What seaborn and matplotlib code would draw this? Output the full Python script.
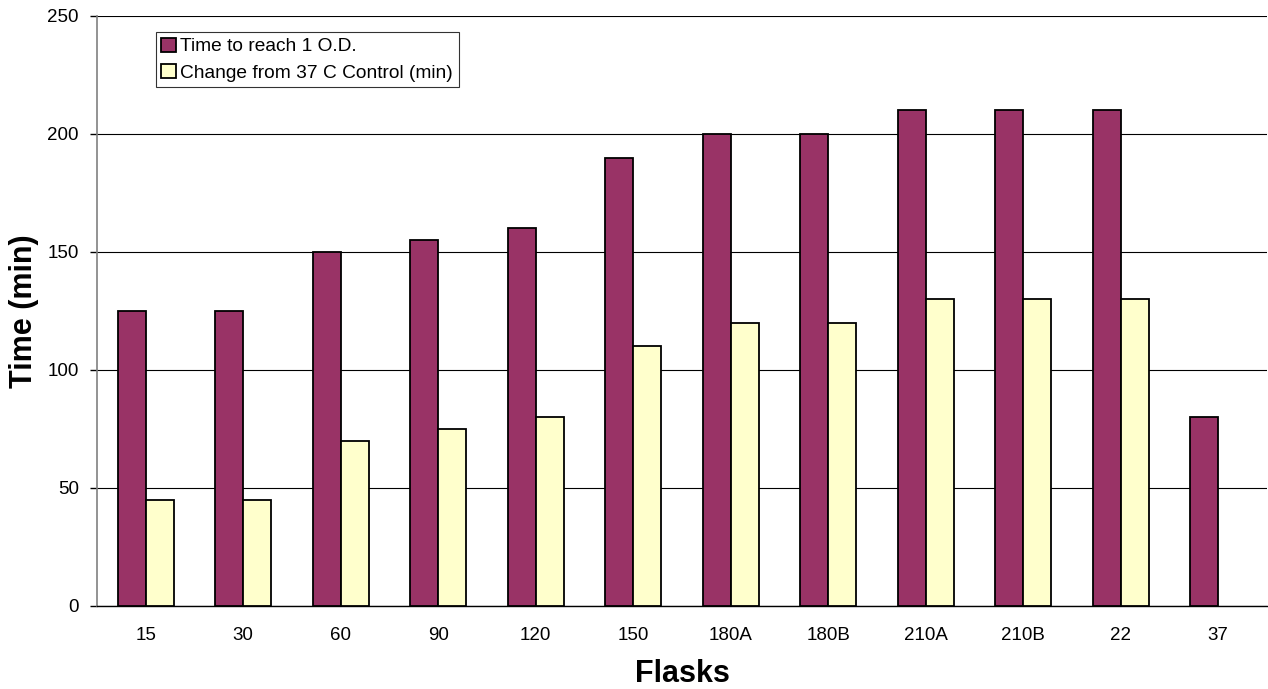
import matplotlib
matplotlib.use("Agg")
import matplotlib.pyplot as plt
import seaborn as sns
import pandas as pd
import numpy as np

flasks = ["15", "30", "60", "90", "120", "150", "180A", "180B", "210A", "210B", "22", "37"]
time_to_od = [125, 125, 150, 155, 160, 190, 200, 200, 210, 210, 210, 80]
change_from_control = [45, 45, 70, 75, 80, 110, 120, 120, 130, 130, 130, np.nan]
series_names = ["Time to reach 1 O.D.", "Change from 37 C Control (min)"]
colors = ["#993366", "#FFFFCC"]

df = pd.DataFrame({
    "Flasks": flasks * 2,
    "Time": time_to_od + change_from_control,
    "Series": [series_names[0]] * len(flasks) + [series_names[1]] * len(flasks),
})

sns.set_style("white")
plt.rcParams["font.family"] = ["Liberation Sans", "DejaVu Sans"]
plt.rcParams["text.color"] = "black"
plt.rcParams["axes.labelcolor"] = "black"
plt.rcParams["xtick.color"] = "black"
plt.rcParams["ytick.color"] = "black"

fig = plt.figure(figsize=(12.68, 6.89), dpi=100)
ax = fig.add_axes([97/1268, 1 - 606/689, (1267-97)/1268, (606-16)/689])

sns.barplot(data=df, x="Flasks", y="Time", hue="Series", palette=colors,
            saturation=1, width=0.575, edgecolor="black", linewidth=1.3,
            ax=ax, zorder=3, legend=True)

ax.set_ylim(0, 250)
ax.set_xlim(-0.5, len(flasks) - 0.5)
ax.set_yticks(np.arange(0, 251, 50))
ax.yaxis.grid(True, color="black", linewidth=0.8, zorder=0)
ax.set_axisbelow(True)
for s in ["top", "right"]:
    ax.spines[s].set_visible(False)
ax.spines["left"].set_color("#808080")
ax.spines["left"].set_linewidth(1.2)
ax.spines["bottom"].set_color("black")
ax.spines["bottom"].set_linewidth(1.0)

ax.set_xticks(np.arange(len(flasks)))
ax.set_xticklabels(flasks)
ax.set_xticks(np.arange(-0.5, len(flasks), 1), minor=True)
ax.tick_params(axis="x", which="major", length=0, pad=15, labelsize=13.5)
ax.tick_params(axis="x", which="minor", length=5, width=1, color="black", direction="out")
ax.tick_params(axis="y", length=5, width=1, color="black", direction="out",
               labelsize=13.5, left=True, pad=8)

ax.set_xlabel("Flasks", fontsize=22, fontweight="bold", labelpad=11)
ax.set_ylabel("Time (min)", fontsize=22, fontweight="bold", labelpad=6)

leg = ax.legend(loc="upper left", bbox_to_anchor=(0.05, 0.973), frameon=True,
                fancybox=False, edgecolor="black", fontsize=13.8,
                handlelength=0.75, handleheight=0.75, handletextpad=0.25,
                borderpad=0.3, labelspacing=0.45, borderaxespad=0)
leg.get_frame().set_linewidth(0.8)

fig.savefig("out.png", dpi=100)
